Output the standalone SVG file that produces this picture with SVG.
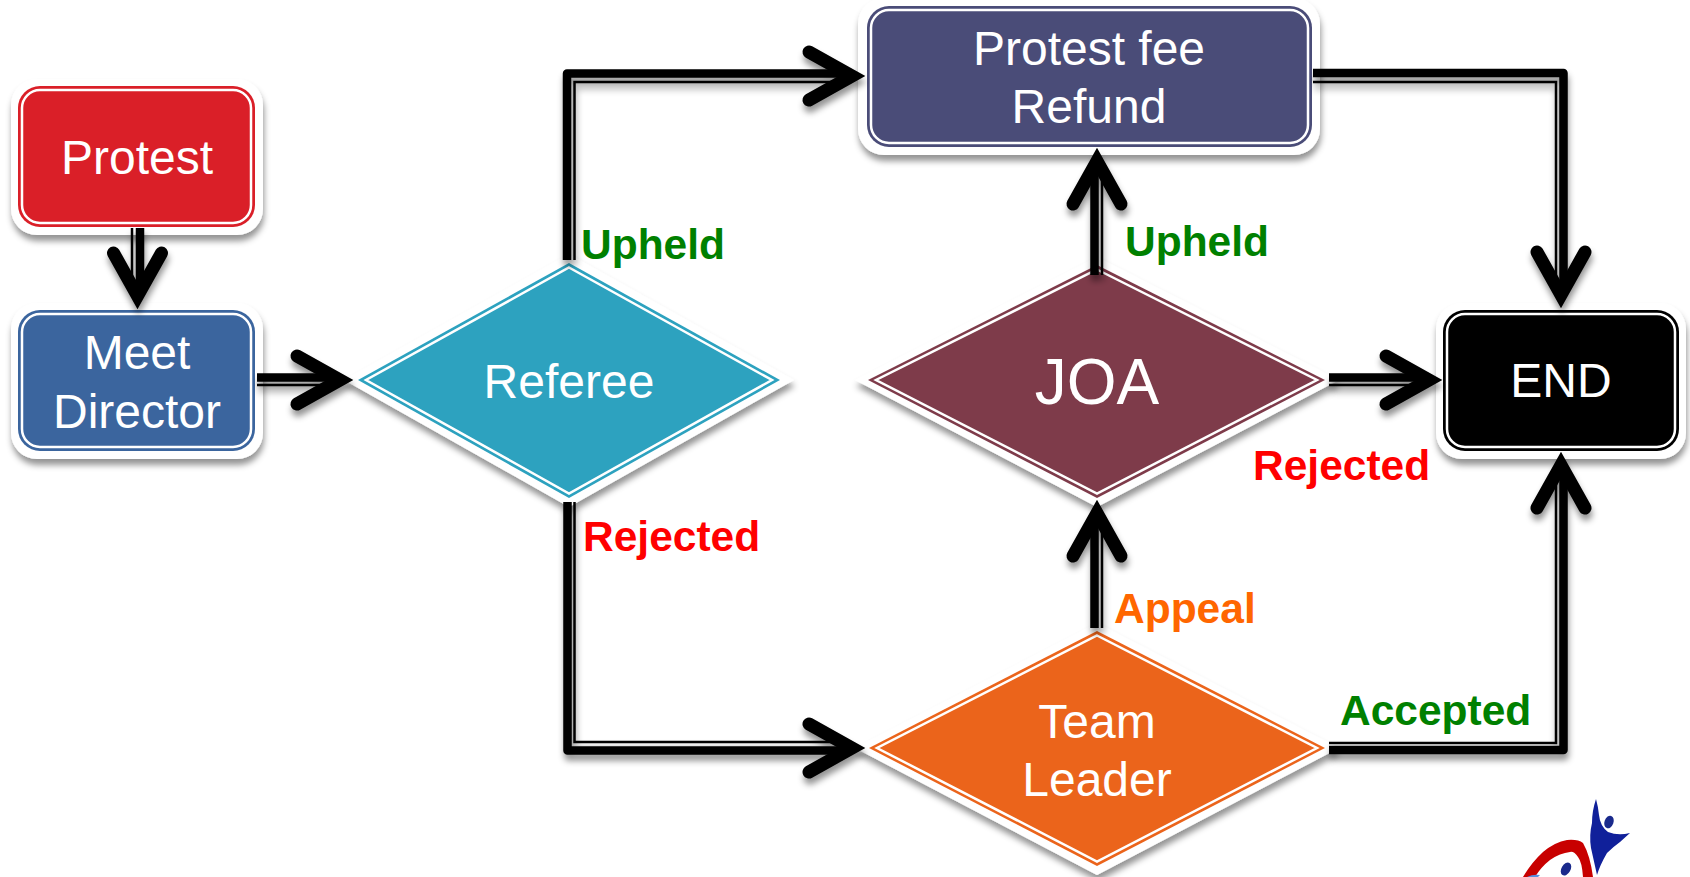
<svg xmlns="http://www.w3.org/2000/svg" width="1690" height="877" viewBox="0 0 1690 877">
<style>
text{font-family:"Liberation Sans",Arial,sans-serif}
.t{fill:#fff;font-size:48px;text-anchor:middle}
.l{font-size:42.500px;font-weight:bold}
.band{fill:#fff;filter:url(#s)}
.in{fill:none;stroke:#fff;stroke-width:2.500}
.thick{fill:none;stroke:#000;stroke-width:8.500;stroke-linejoin:round}
.thin{fill:none;stroke:#000;stroke-width:2.500;stroke-linejoin:miter}
.g{fill:#008000}.r{fill:#f00}.o{fill:#f60}
</style>
<defs>
<filter id="s" filterUnits="userSpaceOnUse" x="0" y="0" width="1690" height="877"><feDropShadow dx="1" dy="6" stdDeviation="3" flood-color="#000" flood-opacity=".42"/></filter>
<marker id="al" markerUnits="userSpaceOnUse" markerWidth="80" markerHeight="80" refX="-4" refY="-2.500" orient="auto" overflow="visible"><path d="M-43,-24L0,0L-43,24" fill="none" stroke="#000" stroke-width="13" stroke-linecap="round" stroke-linejoin="miter" stroke-miterlimit="5"/></marker>
<marker id="ar" markerUnits="userSpaceOnUse" markerWidth="80" markerHeight="80" refX="-4" refY="2.500" orient="auto" overflow="visible"><path d="M-43,-24L0,0L-43,24" fill="none" stroke="#000" stroke-width="13" stroke-linecap="round" stroke-linejoin="miter" stroke-miterlimit="5"/></marker>
</defs>
<rect width="1690" height="877" fill="#fff"/>
<g id="logo">
<path d="M1523,877Q1532,862 1543,852Q1555,842 1567,840Q1578,839 1583,843Q1590,855 1593,877L1583,877Q1582,862 1578,857Q1574,851 1570,852Q1560,853 1550,860Q1541,867 1535,877Z" fill="#c80000"/>
<path d="M1527,877Q1533,874 1540,875L1538,877Z" fill="#5a8fe0"/>
<ellipse cx="1566" cy="869" rx="4.500" ry="7" fill="#1a2a8c" transform="rotate(30 1566 869)"/>
<path d="M1596,799Q1592,811 1592,823Q1589,835 1591,848L1597,875Q1600,865 1607,853Q1613,847 1620,842L1630,833Q1618,836 1608,832Q1600,826 1599,815Q1598,806 1596,799Z" fill="#10209a"/>
<ellipse cx="1609" cy="822" rx="4.500" ry="6.500" fill="#1a2a8c" transform="rotate(20 1609 822)"/>
</g>
<g id="node-protest">
<rect class="band" x="11" y="79" width="252" height="156" rx="26"/>
<rect x="18" y="86" width="237" height="141" rx="22" fill="#da1f28"/>
<rect class="in" x="22" y="90" width="229" height="133" rx="18"/>
<text class="t" x="137" y="174">Protest</text>
</g>
<g id="node-meet-director">
<rect class="band" x="11" y="303" width="252" height="156" rx="26"/>
<rect x="18" y="310" width="237" height="141" rx="22" fill="#3b659e"/>
<rect class="in" x="22" y="314" width="229" height="133" rx="18"/>
<text class="t" x="137" y="369">Meet</text>
<text class="t" x="137" y="428">Director</text>
</g>
<g id="node-refund">
<rect class="band" x="858" y="-2" width="462" height="157" rx="26"/>
<rect x="867" y="6" width="445" height="141" rx="22" fill="#4a4c78"/>
<rect class="in" x="871" y="10" width="437" height="133" rx="18"/>
<text class="t" x="1089" y="65">Protest fee</text>
<text class="t" x="1089" y="123">Refund</text>
</g>
<g id="node-end">
<rect class="band" x="1436" y="303" width="250" height="156" rx="26"/>
<rect x="1443" y="310" width="236" height="141" rx="22" fill="#000"/>
<rect class="in" x="1447" y="314" width="228" height="133" rx="18"/>
<text class="t" x="1561" y="397">END</text>
</g>
<g id="node-referee">
<polygon class="band" points="569,254 794,380 569,507 344,380"/>
<polygon points="569,263 780,380 569,498 358,380" fill="#2da2bf"/>
<polygon class="in" points="569,267.500 772,380 569,493.500 366,380"/>
<text class="t" x="569" y="398">Referee</text>
</g>
<g id="node-joa">
<polygon class="band" points="1097,257 1339,380 1097,507 855,380"/>
<polygon points="1097,265 1325,380 1097,498 868,380" fill="#7e3b4a"/>
<polygon class="in" points="1097,269.500 1317,380 1097,493.500 876,380"/>
<text class="t" x="1097" y="404" style="font-size:64px">JOA</text>
</g>
<g id="node-team-leader">
<polygon class="band" points="1097,623 1339,748 1097,875 855,748"/>
<polygon points="1097,631 1325,748 1097,866 869,748" fill="#eb641b"/>
<polygon class="in" points="1097,635.500 1317,748 1097,861.500 877,748"/>
<text class="t" x="1097" y="738">Team</text>
<text class="t" x="1097" y="796">Leader</text>
</g>
<g id="connectors" filter="url(#s)">
<g id="c-protest-meet"><path class="thick" d="M140,228V292" marker-end="url(#al)"/><path class="thin" d="M132,228V292"/></g>
<g id="c-meet-referee"><path class="thick" d="M257,377.500H336" marker-end="url(#al)"/><path class="thin" d="M257,385H336"/></g>
<g id="c-referee-refund"><path class="thick" d="M567,260V73.500H848" marker-end="url(#al)"/><path class="thin" d="M574.500,260V82H848"/></g>
<g id="c-referee-team"><path class="thick" d="M567.500,502V750.500H848" marker-end="url(#ar)"/><path class="thin" d="M574.500,502V742H848"/></g>
<g id="c-joa-refund"><path class="thick" d="M1094.500,275V165" marker-end="url(#al)"/><path class="thin" d="M1102,275V165"/></g>
<g id="c-team-joa"><path class="thick" d="M1094.500,628V517" marker-end="url(#al)"/><path class="thin" d="M1102,628V517"/></g>
<g id="c-joa-end"><path class="thick" d="M1329,377.500H1425" marker-end="url(#al)"/><path class="thin" d="M1329,385H1425"/></g>
<g id="c-refund-end"><path class="thick" d="M1313,73H1563.500V291" marker-end="url(#al)"/><path class="thin" d="M1313,82H1556V291"/></g>
<g id="c-team-end"><path class="thick" d="M1329,750H1563.500V469" marker-end="url(#ar)"/><path class="thin" d="M1329,743H1556V469"/></g>
</g>
<g id="labels">
<text class="l g" x="581" y="259">Upheld</text>
<text class="l g" x="1125" y="256">Upheld</text>
<text class="l r" x="583" y="551">Rejected</text>
<text class="l r" x="1253" y="480">Rejected</text>
<text class="l o" x="1114" y="623">Appeal</text>
<text class="l g" x="1340" y="725">Accepted</text>
</g>
</svg>
